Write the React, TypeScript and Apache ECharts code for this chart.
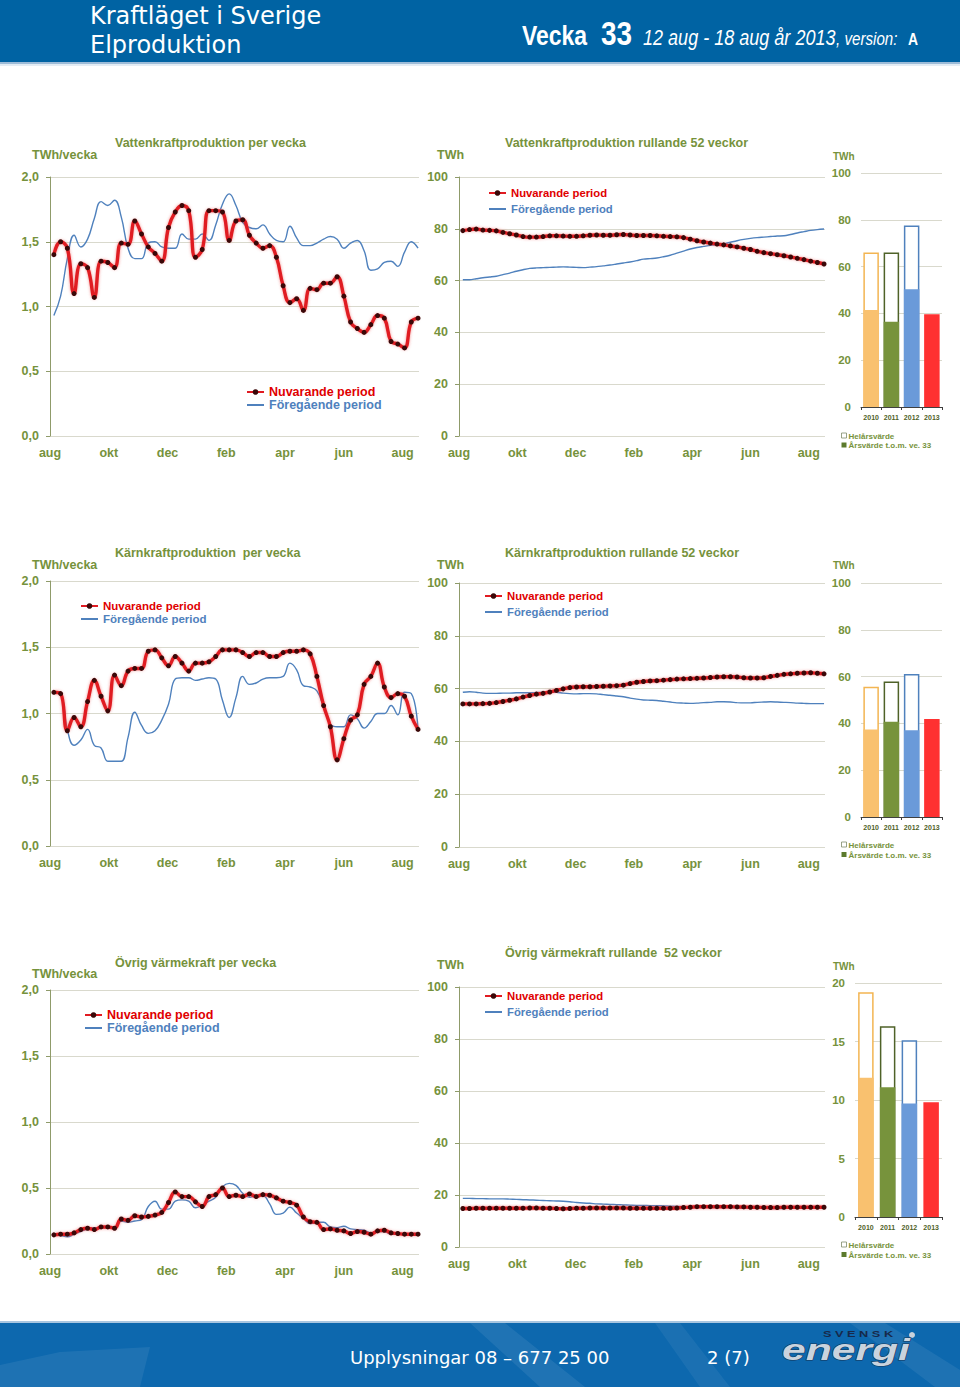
import React, { useEffect, useRef } from 'react';
import * as echarts from 'echarts';

// ---------- data ----------
const MONTH_LABELS = ['aug', 'okt', 'dec', 'feb', 'apr', 'jun', 'aug'];
const MONTH_STEP = 61; // days between axis labels (2 months)
const AXIS_DAYS = 383; // 1 Aug 2012 .. ~19 Aug 2013
// week-end dates as days after 1 Aug 2012 (v31 2012 ... v33 2013)
const weekDays = Array.from({ length: 55 }, (_, i) => 4 + 7 * i);

const hydroWeekNow = [1.40, 1.50, 1.45, 1.10, 1.33, 1.30, 1.07, 1.35, 1.34, 1.30, 1.49, 1.48, 1.66, 1.56, 1.46, 1.41, 1.35, 1.61, 1.73, 1.78, 1.74, 1.38, 1.44, 1.74, 1.74, 1.73, 1.51, 1.66, 1.67, 1.55, 1.49, 1.45, 1.47, 1.38, 1.16, 1.03, 1.06, 0.97, 1.14, 1.13, 1.18, 1.18, 1.23, 1.08, 0.88, 0.83, 0.80, 0.86, 0.93, 0.91, 0.73, 0.71, 0.68, 0.88, 0.91];
const hydroWeekPrev = [0.93, 1.08, 1.37, 1.55, 1.46, 1.52, 1.68, 1.81, 1.78, 1.82, 1.69, 1.45, 1.37, 1.37, 1.49, 1.50, 1.46, 1.45, 1.45, 1.56, 1.52, 1.52, 1.56, 1.51, 1.63, 1.79, 1.87, 1.78, 1.65, 1.61, 1.60, 1.63, 1.56, 1.51, 1.50, 1.62, 1.53, 1.47, 1.47, 1.49, 1.52, 1.54, 1.52, 1.45, 1.49, 1.51, 1.43, 1.28, 1.29, 1.34, 1.35, 1.31, 1.42, 1.50, 1.45];
const hydroRollNow = [79.3, 79.7, 79.9, 79.5, 79.4, 79.2, 78.6, 78.1, 77.6, 77.0, 76.8, 76.8, 77.0, 77.3, 77.3, 77.2, 77.1, 77.1, 77.3, 77.5, 77.6, 77.5, 77.5, 77.7, 77.8, 77.6, 77.4, 77.4, 77.4, 77.3, 77.1, 77.0, 76.9, 76.6, 76.0, 75.4, 74.9, 74.5, 74.1, 73.8, 73.4, 73.0, 72.5, 72.0, 71.3, 70.8, 70.4, 70.0, 69.6, 69.1, 68.6, 68.1, 67.5, 67.0, 66.4];
const hydroRollPrev = [60.3, 60.3, 60.7, 61.1, 61.4, 61.7, 62.3, 62.9, 63.6, 64.2, 64.7, 64.9, 65.0, 65.1, 65.2, 65.3, 65.2, 65.1, 65.0, 65.2, 65.4, 65.7, 66.0, 66.4, 66.8, 67.2, 67.7, 68.3, 68.5, 68.7, 69.2, 69.8, 70.6, 71.4, 72.2, 72.8, 73.2, 73.6, 73.9, 74.2, 74.8, 75.4, 75.9, 76.3, 76.6, 76.8, 77.0, 77.2, 77.3, 77.8, 78.4, 78.9, 79.4, 79.7, 79.9];

const nuclearWeekNow = [1.16, 1.15, 0.87, 0.97, 0.90, 1.09, 1.25, 1.13, 1.02, 1.29, 1.21, 1.32, 1.34, 1.34, 1.47, 1.48, 1.42, 1.36, 1.43, 1.38, 1.32, 1.38, 1.38, 1.39, 1.43, 1.48, 1.48, 1.48, 1.46, 1.43, 1.46, 1.46, 1.43, 1.43, 1.46, 1.47, 1.47, 1.48, 1.45, 1.28, 1.06, 0.90, 0.65, 0.81, 0.95, 0.99, 1.22, 1.28, 1.38, 1.20, 1.12, 1.15, 1.13, 0.98, 0.88];
const nuclearWeekPrev = [1.16, 1.15, 0.88, 0.76, 0.80, 0.88, 0.76, 0.74, 0.64, 0.64, 0.64, 0.82, 1.01, 0.91, 0.85, 0.87, 0.95, 1.07, 1.26, 1.27, 1.27, 1.25, 1.26, 1.27, 1.26, 1.10, 0.97, 1.12, 1.28, 1.22, 1.23, 1.26, 1.27, 1.27, 1.28, 1.38, 1.33, 1.21, 1.20, 1.17, 1.05, 0.92, 0.90, 0.90, 0.99, 0.96, 0.89, 0.94, 1.00, 1.00, 1.06, 0.99, 1.16, 1.15, 0.88];
const nuclearRollNow = [54.2, 54.2, 54.2, 54.3, 54.4, 54.7, 55.1, 55.6, 56.1, 56.8, 57.4, 57.9, 58.2, 58.7, 59.3, 59.9, 60.4, 60.6, 60.7, 60.7, 60.8, 60.9, 61.0, 61.1, 61.3, 61.9, 62.4, 62.7, 62.9, 63.0, 63.2, 63.4, 63.6, 63.7, 63.8, 63.9, 64.0, 64.2, 64.4, 64.5, 64.5, 64.4, 64.1, 64.0, 64.0, 64.1, 64.6, 65.0, 65.4, 65.6, 65.8, 65.9, 66.0, 65.8, 65.6];
const nuclearRollPrev = [58.6, 58.8, 58.6, 58.3, 58.2, 58.2, 58.3, 58.3, 58.4, 58.4, 58.4, 58.5, 58.6, 58.7, 58.6, 58.3, 58.1, 58.0, 58.1, 58.1, 58.0, 57.7, 57.5, 57.2, 56.9, 56.4, 56.0, 55.7, 55.6, 55.5, 55.2, 54.9, 54.6, 54.5, 54.4, 54.5, 54.7, 54.8, 55.0, 55.0, 54.9, 54.7, 54.6, 54.6, 54.8, 54.9, 55.0, 54.9, 54.8, 54.7, 54.5, 54.4, 54.3, 54.3, 54.3];

const otherWeekNow = [0.145, 0.15, 0.15, 0.16, 0.185, 0.195, 0.185, 0.205, 0.205, 0.195, 0.265, 0.255, 0.29, 0.28, 0.285, 0.295, 0.315, 0.39, 0.47, 0.435, 0.435, 0.395, 0.36, 0.435, 0.45, 0.50, 0.435, 0.445, 0.435, 0.455, 0.435, 0.45, 0.445, 0.425, 0.40, 0.39, 0.37, 0.28, 0.245, 0.24, 0.185, 0.19, 0.18, 0.175, 0.155, 0.17, 0.165, 0.15, 0.175, 0.18, 0.16, 0.155, 0.15, 0.15, 0.15];
const otherWeekPrev = [0.15, 0.14, 0.13, 0.15, 0.17, 0.19, 0.20, 0.20, 0.20, 0.20, 0.25, 0.24, 0.25, 0.26, 0.36, 0.40, 0.34, 0.34, 0.40, 0.41, 0.40, 0.35, 0.37, 0.40, 0.43, 0.51, 0.535, 0.52, 0.46, 0.43, 0.44, 0.44, 0.38, 0.30, 0.31, 0.355, 0.31, 0.27, 0.23, 0.24, 0.24, 0.205, 0.20, 0.21, 0.19, 0.185, 0.18, 0.16, 0.17, 0.17, 0.15, 0.15, 0.15, 0.155, 0.155];
const otherRollNow = [14.8, 14.8, 14.9, 14.9, 14.9, 14.9, 14.9, 14.9, 14.9, 14.9, 15.0, 15.0, 14.9, 14.9, 14.8, 14.7, 14.8, 14.9, 14.9, 15.0, 15.0, 15.0, 15.0, 15.0, 15.0, 14.9, 14.9, 14.9, 14.9, 14.9, 14.9, 14.9, 15.0, 15.2, 15.3, 15.5, 15.5, 15.5, 15.5, 15.5, 15.5, 15.4, 15.4, 15.3, 15.3, 15.2, 15.2, 15.2, 15.3, 15.3, 15.3, 15.3, 15.3, 15.3, 15.3];
const otherRollPrev = [18.7, 18.7, 18.6, 18.6, 18.5, 18.5, 18.5, 18.4, 18.3, 18.2, 18.1, 18.0, 17.9, 17.8, 17.7, 17.6, 17.4, 17.1, 16.9, 16.8, 16.6, 16.5, 16.4, 16.3, 16.2, 16.1, 16.0, 16.0, 15.9, 15.9, 15.8, 15.7, 15.6, 15.5, 15.4, 15.4, 15.3, 15.3, 15.3, 15.2, 15.2, 15.1, 15.0, 15.0, 14.9, 14.9, 14.8, 14.8, 14.8, 14.9, 14.9, 14.9, 15.0, 15.0, 15.0];

const barYears = ['2010', '2011', '2012', '2013'];
const hydroFullYear = [66.0, 66.0, 77.6, null];
const hydroYtd = [41.4, 36.4, 50.3, 39.6];
const nuclearFullYear = [55.7, 57.9, 61.1, null];
const nuclearYtd = [37.4, 40.7, 37.1, 41.9];
const otherFullYear = [19.2, 16.3, 15.1, null];
const otherYtd = [11.9, 11.1, 9.7, 9.8];

const weekTitles = ['Vattenkraftproduktion per vecka', 'Kärnkraftproduktion  per vecka', 'Övrig värmekraft per vecka'];
const rollTitles = ['Vattenkraftproduktion rullande 52 veckor', 'Kärnkraftproduktion rullande 52 veckor', 'Övrig värmekraft rullande  52 veckor'];
const NOW_NAME = 'Nuvarande period';
const PREV_NAME = 'Föregående period';

// ---------- styles / layout ----------
const FONT = '"Liberation Sans", Arial, Helvetica, sans-serif';
const OLIVE = '#76923C';
const GRID_C = '#D9D9CD';
const AXIS_C = '#8F9B6A';
const RED = '#E01B22';
const DOT = '#3A0808';
const BLUE = '#4F81BD';
const BAR_FILL = ['#F9C16F', '#77933C', '#6A9AD9', '#FF3131'];
const BAR_EDGE = ['#F3B552', '#4F6228', '#4F81BD', '#FF3131'];

const rowsLayout = [
  {
    week: { left: 50, top: 177, width: 369, height: 259 },
    roll: { left: 459, top: 177, width: 366, height: 259 },
    bar: { left: 861, top: 173, width: 81, height: 234 },
    titleY: 143, unitY: 155, rollTitleY: 143, rollUnitY: 155, barUnitY: 156, barLegY: [436, 445.5],
    weekLeg: { x: 268, y: [392, 405], size: 12.5 }, rollLeg: { x: 510, y: [193, 209], size: 11.3 },
    barMax: 100, barInt: 20,
  },
  {
    week: { left: 50, top: 581, width: 369, height: 265 },
    roll: { left: 459, top: 583, width: 366, height: 264 },
    bar: { left: 861, top: 583, width: 81, height: 234 },
    titleY: 553, unitY: 565, rollTitleY: 553, rollUnitY: 565, barUnitY: 565, barLegY: [845, 855],
    weekLeg: { x: 102, y: [606, 619], size: 11.5 }, rollLeg: { x: 506, y: [596, 612], size: 11.3 },
    barMax: 100, barInt: 20,
  },
  {
    week: { left: 50, top: 990, width: 369, height: 264 },
    roll: { left: 459, top: 987, width: 366, height: 260 },
    bar: { left: 855, top: 983, width: 87, height: 234 },
    titleY: 963, unitY: 974, rollTitleY: 953, rollUnitY: 965, barUnitY: 966, barLegY: [1245, 1255],
    weekLeg: { x: 106, y: [1015, 1028], size: 12.5 }, rollLeg: { x: 506, y: [996, 1012], size: 11.3 },
    barMax: 20, barInt: 5,
  },
];

const rowData = [
  { wNow: hydroWeekNow, wPrev: hydroWeekPrev, rNow: hydroRollNow, rPrev: hydroRollPrev, full: hydroFullYear, ytd: hydroYtd },
  { wNow: nuclearWeekNow, wPrev: nuclearWeekPrev, rNow: nuclearRollNow, rPrev: nuclearRollPrev, full: nuclearFullYear, ytd: nuclearYtd },
  { wNow: otherWeekNow, wPrev: otherWeekPrev, rNow: otherRollNow, rPrev: otherRollPrev, full: otherFullYear, ytd: otherYtd },
];

function txt(x: number, y: number, text: string, font: string, fill: string, extra: any = {}) {
  const { style: extraStyle, ...rest } = extra;
  return {
    type: 'text', x, y, silent: true, ...rest,
    style: { text, font, fill, verticalAlign: 'middle', align: 'left', ...(extraStyle || {}) },
  };
}

function buildOption() {
  const grid: any[] = [];
  const xAxis: any[] = [];
  const yAxis: any[] = [];
  const series: any[] = [];
  const legend: any[] = [];
  const graphic: any[] = [];

  const monthFormatter = (v: number) => (v % MONTH_STEP === 0 ? MONTH_LABELS[v / MONTH_STEP] ?? '' : '');
  const axisLabelBase = { color: OLIVE, fontWeight: 'bold', fontSize: 12.5, fontFamily: FONT };

  const addLineChart = (box: any, yMax: number, yInt: number, yFmt: (v: number) => string, now: number[], prev: number[], leg: any, smooth: number) => {
    const idx = grid.length;
    grid.push({ ...box, containLabel: false });
    xAxis.push({
      type: 'value', gridIndex: idx, min: 0, max: AXIS_DAYS, interval: MONTH_STEP,
      axisLine: { show: false }, axisTick: { show: false }, splitLine: { show: false },
      axisLabel: { ...axisLabelBase, margin: 10, formatter: monthFormatter, showMaxLabel: false },
    });
    yAxis.push({
      type: 'value', gridIndex: idx, min: 0, max: yMax, interval: yInt,
      axisLine: { show: true, lineStyle: { color: AXIS_C, width: 1 } },
      axisTick: { show: true, length: 4, lineStyle: { color: AXIS_C } },
      splitLine: { show: true, lineStyle: { color: GRID_C, width: 1 } },
      axisLabel: { ...axisLabelBase, margin: 11, formatter: yFmt },
    });
    series.push({
      type: 'line', name: PREV_NAME, xAxisIndex: idx, yAxisIndex: idx,
      data: weekDays.map((d, i) => [d, prev[i]]),
      smooth, symbol: 'none', showSymbol: false,
      lineStyle: { color: BLUE, width: 1.4 }, itemStyle: { color: BLUE }, z: 2,
    });
    series.push({
      type: 'line', name: NOW_NAME, xAxisIndex: idx, yAxisIndex: idx,
      data: weekDays.map((d, i) => [d, now[i]]),
      smooth, symbol: 'circle', symbolSize: 5, showSymbol: true,
      lineStyle: { color: RED, width: 3.4, shadowColor: 'rgba(235,70,70,0.6)', shadowBlur: 3 },
      itemStyle: { color: DOT }, z: 3,
    });
    const lh = leg.size + 1.5;
    legend.push({
      orient: 'vertical', left: leg.x - 5 - 17, top: leg.y[0] - lh / 2,
      itemWidth: 17, itemHeight: 7, itemGap: leg.y[1] - leg.y[0] - lh, padding: 0,
      selectedMode: false,
      textStyle: { fontFamily: FONT, fontWeight: 'bold', fontSize: leg.size, lineHeight: lh },
      data: [
        { name: NOW_NAME, textStyle: { color: '#E00000' } },
        { name: PREV_NAME, itemStyle: { opacity: 0 }, textStyle: { color: BLUE } },
      ],
    });
  };

  rowsLayout.forEach((L, r) => {
    const D = rowData[r];
    // weekly
    addLineChart(L.week, 2, 0.5, (v: number) => v.toFixed(1).replace('.', ','), D.wNow, D.wPrev, L.weekLeg, 0.45);
    // rolling 52 weeks
    addLineChart(L.roll, 100, 20, (v: number) => String(v), D.rNow, D.rPrev, L.rollLeg, 0.3);
    // bars
    const idx = grid.length;
    grid.push({ ...L.bar, containLabel: false });
    xAxis.push({
      type: 'category', gridIndex: idx, data: barYears, boundaryGap: true,
      axisLine: { show: true, lineStyle: { color: '#3F3F3F', width: 1 } },
      axisTick: { show: true, length: 3, alignWithLabel: false, lineStyle: { color: '#3F3F3F' } },
      axisLabel: { color: '#4F6228', fontSize: 7, fontWeight: 'bold', fontFamily: FONT, margin: 7, interval: 0 },
    });
    yAxis.push({
      type: 'value', gridIndex: idx, min: 0, max: L.barMax, interval: L.barInt,
      axisLine: { show: false }, axisTick: { show: false },
      splitLine: { show: true, lineStyle: { color: GRID_C } },
      axisLabel: { color: OLIVE, fontWeight: 'bold', fontSize: 11.5, fontFamily: FONT, margin: 10 },
    });
    series.push({
      type: 'bar', name: 'Helårsvärde', xAxisIndex: idx, yAxisIndex: idx, barWidth: 15.5, barGap: '-100%',
      data: D.full.map((v, i) => (v == null ? null : { value: v, itemStyle: { color: '#FFFFFF', borderColor: BAR_EDGE[i], borderWidth: 1.5 } })),
      z: 2,
    });
    series.push({
      type: 'bar', name: 'Årsvärde t.o.m. ve. 33', xAxisIndex: idx, yAxisIndex: idx, barWidth: 15.5, barGap: '-100%',
      data: D.ytd.map((v, i) => ({ value: v, itemStyle: { color: BAR_FILL[i] } })),
      z: 3,
    });

    // texts
    const tFont = `bold 12.5px ${FONT}`;
    graphic.push(txt(32, L.unitY, 'TWh/vecka', tFont, OLIVE));
    graphic.push(txt(115, L.titleY, weekTitles[r], tFont, OLIVE));
    graphic.push(txt(437, L.rollUnitY, 'TWh', tFont, OLIVE));
    graphic.push(txt(505, L.rollTitleY, rollTitles[r], tFont, OLIVE));
    graphic.push(txt(833, L.barUnitY, 'TWh', `bold 10px ${FONT}`, OLIVE));
    // bar legend
    graphic.push({ type: 'rect', silent: true, shape: { x: 841.5, y: L.barLegY[0] - 3, width: 5, height: 5 }, style: { fill: '#FFFFFF', stroke: '#7F8A6A', lineWidth: 0.8 } });
    graphic.push(txt(848.5, L.barLegY[0], 'Helårsvärde', `bold 8px ${FONT}`, OLIVE));
    graphic.push({ type: 'rect', silent: true, shape: { x: 841.5, y: L.barLegY[1] - 3, width: 5, height: 5 }, style: { fill: '#5C7A2C' } });
    graphic.push(txt(848.5, L.barLegY[1], 'Årsvärde t.o.m. ve. 33', `bold 8px ${FONT}`, OLIVE));
  });

  // header
  const header: any[] = [
    { type: 'rect', silent: true, shape: { x: 0, y: 0, width: 960, height: 62 }, style: { fill: '#0063A3' } },
    { type: 'rect', silent: true, shape: { x: 0, y: 62, width: 960, height: 2 }, style: { fill: '#9DBCD8' } },
    { type: 'rect', silent: true, shape: { x: 0, y: 64, width: 960, height: 2 }, style: { fill: '#E3ECF4' } },
    txt(90, 16, 'Kraftläget i Sverige', '24px "DejaVu Sans", Verdana, sans-serif', '#FFFFFF'),
    txt(90, 45, 'Elproduktion', '24px "DejaVu Sans", Verdana, sans-serif', '#FFFFFF'),
    txt(522, 35.5, 'Vecka', `bold 28px ${FONT}`, '#FFFFFF', { scaleX: 0.82 }),
    txt(601, 33.5, '33', `bold 34px ${FONT}`, '#FFFFFF', { scaleX: 0.82 }),
    txt(643, 37.5, '12 aug - 18 aug år 2013', `italic 22px ${FONT}`, '#FFFFFF', { scaleX: 0.82 }),
    txt(836, 38.5, ', version:', `italic 18.5px ${FONT}`, '#FFFFFF', { scaleX: 0.82 }),
    txt(908, 39, 'A', `bold 17px ${FONT}`, '#FFFFFF', { scaleX: 0.82 }),
  ];
  // footer
  const footer: any[] = [
    { type: 'rect', silent: true, shape: { x: 0, y: 1321, width: 960, height: 2 }, style: { fill: '#A9C6E0' } },
    { type: 'rect', silent: true, shape: { x: 0, y: 1323, width: 960, height: 64 }, style: { fill: '#0D68AE' } },
    { type: 'polygon', silent: true, shape: { points: [[0, 1365], [60, 1352], [150, 1347], [140, 1387], [0, 1387]] }, style: { fill: 'rgba(255,255,255,0.07)' } },
    { type: 'polygon', silent: true, shape: { points: [[470, 1323], [505, 1323], [585, 1387], [540, 1387]] }, style: { fill: 'rgba(255,255,255,0.08)' } },
    { type: 'polygon', silent: true, shape: { points: [[655, 1323], [680, 1323], [730, 1387], [700, 1387]] }, style: { fill: 'rgba(255,255,255,0.06)' } },
    { type: 'polygon', silent: true, shape: { points: [[850, 1323], [885, 1323], [960, 1370], [960, 1387], [935, 1387]] }, style: { fill: 'rgba(255,255,255,0.07)' } },
    txt(350, 1357, 'Upplysningar 08 – 677 25 00', '18px "DejaVu Sans", Verdana, sans-serif', '#FFFFFF'),
    txt(707, 1357, '2 (7)', '18px "DejaVu Sans", Verdana, sans-serif', '#FFFFFF'),
    txt(823, 1334, 'S V E N S K', `900 8.5px ${FONT}`, '#17294A', { scaleX: 1.5 }),
    { type: 'circle', silent: true, shape: { cx: 912, cy: 1335, r: 3 }, style: { fill: '#C9D2DC' } },
    txt(782, 1350, 'energi', `italic 900 30px ${FONT}`, '#C9D3DE', { scaleX: 1.42, style: { stroke: '#143456', lineWidth: 1 } }),
  ];

  return {
    animation: false,
    backgroundColor: '#FFFFFF',
    textStyle: { fontFamily: FONT },
    grid, xAxis, yAxis, series, legend,
    graphic: [...header, ...footer, ...graphic],
  };
}

export default function App() {
  const ref = useRef<HTMLDivElement>(null);
  useEffect(() => {
    document.body.style.margin = '0';
    const chart = echarts.init(ref.current as HTMLDivElement, null, { renderer: 'svg' });
    chart.setOption(buildOption() as any);
    return () => chart.dispose();
  }, []);
  return (
    <div
      ref={ref}
      style={{ position: 'absolute', left: 0, top: 0, width: 960, height: 1387, background: '#FFFFFF' }}
    />
  );
}
